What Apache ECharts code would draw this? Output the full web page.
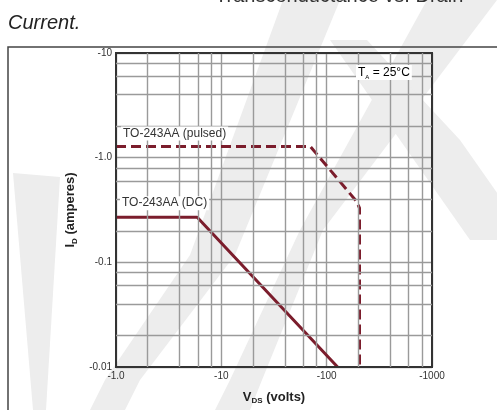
<!DOCTYPE html>
<html>
<head>
<meta charset="utf-8">
<script src="https://cdn.jsdelivr.net/npm/echarts@6/dist/echarts.min.js"></script>
<style>
  html, body { margin: 0; padding: 0; background: #fff; }
  #chart { width: 497px; height: 410px; }
</style>
</head>
<body>
<div id="chart"></div>
<script>
// drain-source voltage (magnitude, volts) and drain current (magnitude, amperes)
const pulsedV = [1, 70, 193, 205, 205];
const pulsedI = [1.28, 1.28, 0.38, 0.33, 0.01];
const dcV = [1, 5.9, 127];
const dcI = [0.27, 0.27, 0.01];

// axis tick labels (datasheet shows negative values for the P-channel part)
const xTickLabels = ['-1.0', '-10', '-100', '-1000'];
const yTickLabels = ['-0.01', '-0.1', '-1.0', '-10'];

// minor grid at 2,4,6,8 within each decade
const minorSteps = [2, 4, 6, 8];
const xDecades = [1, 10, 100];
const yDecades = [0.01, 0.1, 1];

const lineColor = '#7b1d2c';
const gridColor = '#9a9a9a';
const font = 'Liberation Sans, Arial, sans-serif';
const wmColor = '#ededed';

const chart = echarts.init(document.getElementById('chart'), null, { renderer: 'canvas' });

const toPairs = (xs, ys) => xs.map((x, i) => [x, ys[i]]);

const minorLines = [];
xDecades.forEach(d => minorSteps.forEach(s => minorLines.push({ xAxis: +(d * s).toPrecision(3) })));
yDecades.forEach(d => minorSteps.forEach(s => minorLines.push({ yAxis: +(d * s).toPrecision(3) })));

const subRich = {
  b: { fontFamily: font, fontSize: 13, fontWeight: 'bold', color: '#222', lineHeight: 16 },
  s: { fontFamily: font, fontSize: 8, fontWeight: 'bold', color: '#222', lineHeight: 8, verticalAlign: 'bottom' }
};

const lineLabel = (text, offset) => ({
  symbol: 'circle', symbolSize: 2,
  itemStyle: { color: 'rgba(0,0,0,0)' },
  label: {
    show: true, formatter: text, position: 'inside',
    align: 'left', offset: offset,
    fontFamily: font, fontSize: 12, color: '#333',
    backgroundColor: '#fff', padding: [1, 2]
  }
});

const option = {
  animation: false,
  backgroundColor: '#fff',
  grid: {
    left: 116, top: 53, right: 65, bottom: 42,
    show: true, borderColor: '#333', borderWidth: 2, z: 5
  },
  xAxis: {
    type: 'log', logBase: 10, min: 1, max: 1000,
    name: '{b|V}{s|DS}{b| (volts)}',
    nameLocation: 'middle', nameGap: 22,
    nameTextStyle: { rich: subRich },
    axisLine: { show: true, lineStyle: { color: '#333', width: 2 } },
    axisTick: { show: false },
    axisLabel: {
      fontFamily: font, fontSize: 10, color: '#333', margin: 4,
      formatter: (v, i) => xTickLabels[i]
    },
    splitLine: { show: true, lineStyle: { color: gridColor, width: 1.4 } }
  },
  yAxis: {
    type: 'log', logBase: 10, min: 0.01, max: 10,
    name: '{b|I}{s|D}{b| (amperes)}',
    nameLocation: 'middle', nameGap: 37, nameRotate: 90,
    nameTextStyle: { rich: subRich },
    axisLine: { show: true, lineStyle: { color: '#333', width: 2 } },
    axisTick: { show: false },
    axisLabel: {
      fontFamily: font, fontSize: 10, color: '#333', margin: 4,
      formatter: (v, i) => yTickLabels[i]
    },
    splitLine: { show: true, lineStyle: { color: gridColor, width: 1.4 } }
  },
  series: [
    {
      name: 'grid',
      type: 'line',
      data: [],
      silent: true,
      markLine: {
        silent: true, symbol: 'none', label: { show: false },
        lineStyle: { color: gridColor, width: 1.4, type: 'solid' },
        data: minorLines
      }
    },
    {
      name: 'TO-243AA (pulsed)',
      type: 'line',
      data: toPairs(pulsedV, pulsedI),
      showSymbol: false,
      z: 4,
      lineStyle: { color: lineColor, width: 3, type: [10, 5] },
      markPoint: Object.assign(lineLabel('TO-243AA (pulsed)', [5, -13]), {
        data: [{ coord: [pulsedV[0], pulsedI[0]] }]
      })
    },
    {
      name: 'TO-243AA (DC)',
      type: 'line',
      data: toPairs(dcV, dcI),
      showSymbol: false,
      z: 4,
      lineStyle: { color: lineColor, width: 3 },
      markPoint: Object.assign(lineLabel('TO-243AA (DC)', [4, -14]), {
        data: [{ coord: [dcV[0], dcI[0]] }]
      })
    }
  ],
  graphic: [
    // faint watermark shapes behind the chart
    {
      type: 'polygon', z: -20, silent: true,
      shape: { points: [[13, 173], [60, 177], [46, 410], [33, 410]] },
      style: { fill: wmColor }
    },
    {
      type: 'polygon', z: -20, silent: true,
      shape: { points: [[283, 0], [340, 0], [235, 255], [140, 380], [125, 410], [90, 410], [105, 380], [190, 255]] },
      style: { fill: wmColor }
    },
    {
      type: 'polygon', z: -20, silent: true,
      shape: { points: [[427, 0], [497, 0], [323, 230], [262, 380], [250, 410], [215, 410], [230, 380], [300, 230]] },
      style: { fill: wmColor }
    },
    {
      type: 'polygon', z: -20, silent: true,
      shape: { points: [[330, 40], [367, 40], [460, 140], [530, 240], [470, 240], [400, 140]] },
      style: { fill: wmColor }
    },
    {
      type: 'rect', z: -10, silent: true,
      shape: { x: 8, y: 47, width: 520, height: 420 },
      style: { fill: 'none', stroke: '#444', lineWidth: 1.5 }
    },
    {
      type: 'text', left: 8, top: 13, silent: true,
      style: { text: 'Current.', font: 'italic 20px ' + font, fill: '#222' }
    },
    {
      type: 'text', x: 215, y: -14, silent: true,
      style: { text: 'Transconductance vs. Drain', font: '20px ' + font, fill: '#333' }
    },
    {
      type: 'text', left: 356, top: 65, z: 20, silent: true,
      style: {
        text: '{m|T}{s|A}{m| = 25°C}',
        backgroundColor: '#fff', padding: [0, 2],
        rich: {
          m: { fontFamily: font, fontSize: 12, color: '#333', lineHeight: 15 },
          s: { fontFamily: font, fontSize: 6, color: '#333', lineHeight: 6, verticalAlign: 'bottom' }
        }
      }
    }
  ]
};

chart.setOption(option);
</script>
</body>
</html>
